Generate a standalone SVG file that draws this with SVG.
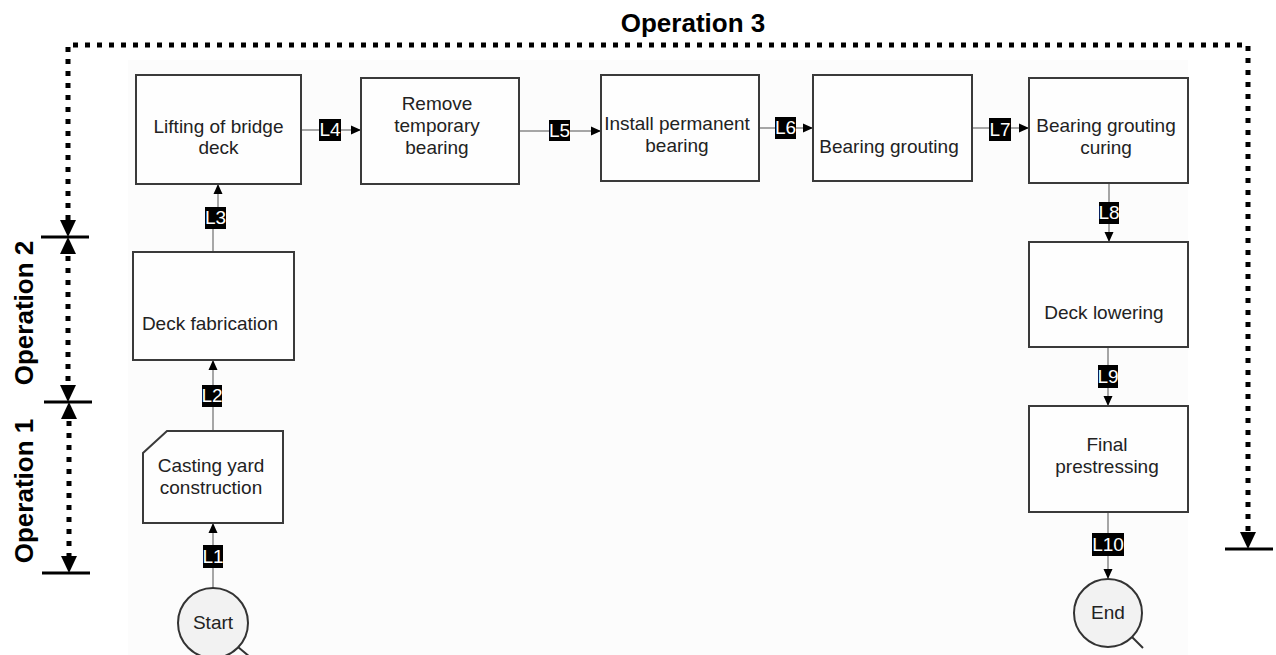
<svg xmlns="http://www.w3.org/2000/svg" width="1276" height="655" viewBox="0 0 1276 655">
<style>
.bx{fill:#fefefe;stroke:#3a3a3a;stroke-width:2}
.t{font-family:"Liberation Sans",Arial,sans-serif;font-size:19px;fill:#222;text-anchor:middle}
.op{font-family:"Liberation Sans",Arial,sans-serif;font-size:26px;font-weight:bold;fill:#000;text-anchor:middle}
.cn{fill:none;stroke:#8a8a8a;stroke-width:1.5}
.lb{fill:#000}
.lt{font-family:"Liberation Sans",Arial,sans-serif;font-size:19px;fill:#fff;text-anchor:middle}
.dot{fill:none;stroke:#000;stroke-width:5;stroke-dasharray:5 7}
.tick{stroke:#000;stroke-width:3}
.cir{fill:#f2f2f2;stroke:#333;stroke-width:2}
</style>
<defs>
<marker id="ah" markerUnits="userSpaceOnUse" markerWidth="10" markerHeight="10" viewBox="0 0 10 10" refX="10" refY="5" orient="auto">
<path d="M0,0.5 L10,5 L0,9.5 Z" fill="#000"/>
</marker>
<path id="hd" d="M0,0 L-8,-17 L8,-17 Z" fill="#000"/>
</defs>
<rect x="128" y="60" width="1060" height="595" fill="#fcfcfc"/>

<g id="dimensions">
<path class="dot" d="M68,220 V45 H1248 V532"/>
<use href="#hd" transform="translate(68,237)"/>
<line class="tick" x1="41" y1="237" x2="89" y2="237"/>
<use href="#hd" transform="translate(68,237) rotate(180)"/>
<path class="dot" d="M68,256 V385"/>
<use href="#hd" transform="translate(68,402)"/>
<line class="tick" x1="44" y1="402" x2="92" y2="402"/>
<use href="#hd" transform="translate(69,402) rotate(180)"/>
<path class="dot" d="M69,421 V556"/>
<use href="#hd" transform="translate(69,573)"/>
<line class="tick" x1="42" y1="573" x2="90" y2="573"/>
<use href="#hd" transform="translate(1248,549)"/>
<line class="tick" x1="1225" y1="549" x2="1273" y2="549"/>
<text class="op" x="693" y="32">Operation 3</text>
<text class="op" transform="translate(33,313) rotate(-90)">Operation 2</text>
<text class="op" transform="translate(33,491) rotate(-90)">Operation 1</text>
</g>

<g id="connectors">
<path class="cn" d="M213,588 V523" marker-end="url(#ah)"/>
<path class="cn" d="M213,431 V360" marker-end="url(#ah)"/>
<path class="cn" d="M213,252 V218 H218 V184" marker-end="url(#ah)"/>
<path class="cn" d="M301,130 H361" marker-end="url(#ah)"/>
<path class="cn" d="M519,131 H601" marker-end="url(#ah)"/>
<path class="cn" d="M759,128 H813" marker-end="url(#ah)"/>
<path class="cn" d="M972,128 H1029" marker-end="url(#ah)"/>
<path class="cn" d="M1109,183 V242" marker-end="url(#ah)"/>
<path class="cn" d="M1108,347 V406" marker-end="url(#ah)"/>
<path class="cn" d="M1108,512 V579" marker-end="url(#ah)"/>
<rect class="lb" x="203" y="545" width="20" height="23"/><text class="lt" x="213" y="563">L1</text>
<rect class="lb" x="202" y="385" width="20" height="22"/><text class="lt" x="212" y="402">L2</text>
<rect class="lb" x="205" y="207" width="21" height="22"/><text class="lt" x="215.5" y="224">L3</text>
<rect class="lb" x="319" y="119" width="22" height="22"/><text class="lt" x="330" y="136">L4</text>
<rect class="lb" x="549" y="120" width="21" height="21"/><text class="lt" x="559.5" y="137">L5</text>
<rect class="lb" x="775" y="117" width="21" height="22"/><text class="lt" x="785.5" y="134">L6</text>
<rect class="lb" x="989" y="118" width="22" height="23"/><text class="lt" x="1000" y="136">L7</text>
<rect class="lb" x="1099" y="202" width="20" height="22"/><text class="lt" x="1109" y="219">L8</text>
<rect class="lb" x="1098" y="365" width="20" height="23"/><text class="lt" x="1108" y="383">L9</text>
<rect class="lb" x="1092" y="533" width="32" height="23"/><text class="lt" x="1108" y="551">L10</text>
</g>

<g id="start">
<line x1="238" y1="647" x2="250" y2="657" stroke="#333" stroke-width="2"/>
<circle class="cir" cx="213" cy="623" r="35"/>
<text class="t" x="213" y="629">Start</text>
</g>
<g id="casting">
<path class="bx" d="M167,431 H283 V523 H143 V453 Z"/>
<text class="t" x="211" y="472">Casting yard</text>
<text class="t" x="211" y="494">construction</text>
</g>
<g id="deckfab">
<rect class="bx" x="133" y="252" width="161" height="108"/>
<text class="t" x="210" y="330">Deck fabrication</text>
</g>
<g id="lifting">
<rect class="bx" x="136" y="75" width="165" height="109"/>
<text class="t" x="218.5" y="133">Lifting of bridge</text>
<text class="t" x="218.5" y="154">deck</text>
</g>
<g id="remove">
<rect class="bx" x="361" y="78" width="158" height="106"/>
<text class="t" x="437" y="110">Remove</text>
<text class="t" x="437" y="132">temporary</text>
<text class="t" x="437" y="154">bearing</text>
</g>
<g id="install">
<rect class="bx" x="601" y="75" width="158" height="106"/>
<text class="t" x="677" y="130">Install permanent</text>
<text class="t" x="677" y="152">bearing</text>
</g>
<g id="grouting">
<rect class="bx" x="813" y="75" width="159" height="106"/>
<text class="t" x="889" y="153">Bearing grouting</text>
</g>
<g id="curing">
<rect class="bx" x="1029" y="78" width="159" height="105"/>
<text class="t" x="1106" y="132">Bearing grouting</text>
<text class="t" x="1106" y="154">curing</text>
</g>
<g id="lowering">
<rect class="bx" x="1029" y="242" width="159" height="105"/>
<text class="t" x="1104" y="319">Deck lowering</text>
</g>
<g id="prestressing">
<rect class="bx" x="1029" y="406" width="159" height="106"/>
<text class="t" x="1107" y="451">Final</text>
<text class="t" x="1107" y="473">prestressing</text>
</g>
<g id="end">
<line x1="1132" y1="637" x2="1143" y2="648" stroke="#333" stroke-width="2"/>
<circle class="cir" cx="1108" cy="613" r="34"/>
<text class="t" x="1108" y="619">End</text>
</g>
</svg>
